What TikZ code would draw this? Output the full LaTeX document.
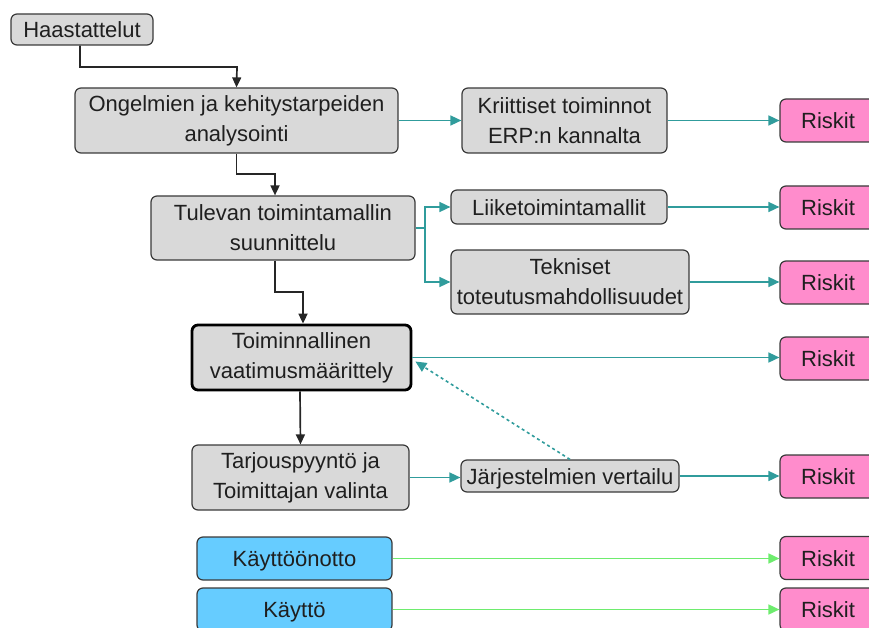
\documentclass[tikz,border=0pt]{standalone}
\usepackage{fontspec}
\setmainfont{Liberation Sans}
\usetikzlibrary{arrows.meta}
\definecolor{boxgray}{RGB}{217,217,217}
\definecolor{boxline}{RGB}{58,58,58}
\definecolor{riskpink}{RGB}{255,140,204}
\definecolor{stageblue}{RGB}{102,204,255}
\definecolor{flowteal}{RGB}{48,156,156}
\definecolor{flowgreen}{RGB}{110,236,110}
\begin{document}
\begin{tikzpicture}[x=1pt,y=-1pt,
  every node/.style={font=\fontsize{22}{30}\selectfont, text=black!88, inner sep=0pt, align=center},
  oneline/.style={text height=16pt, text depth=0pt},
  base/.style={draw=boxline, line width=1.2pt, rounded corners=6pt},
  graybox/.style={base, fill=boxgray},
  keybox/.style={graybox, draw=black, line width=2.8pt},
  bluebox/.style={base, fill=stageblue, oneline},
  riskbox/.style={base, fill=riskpink, oneline, minimum width=96pt, minimum height=43pt},
  mainflow/.style={draw=black!85, line width=1.7pt, -{Triangle[length=10pt,width=9pt]}},
  sideflow/.style={draw=flowteal, line width=1.6pt, -{Triangle[length=11pt,width=10pt]}},
  useflow/.style={draw=flowgreen, line width=1.7pt, -{Triangle[length=11pt,width=10pt]}}
]
\useasboundingbox (0,0) rectangle (869,628);

% process stages
\node[graybox, oneline, minimum width=142pt, minimum height=31pt] (hs) at (82,29.5) {Haastattelut};
\node[graybox, minimum width=323pt, minimum height=65pt] (ong) at (236.5,120.5) {Ongelmien ja kehitystarpeiden\\analysointi};
\node[graybox, minimum width=264pt, minimum height=64pt] (tul) at (283,228) {Tulevan toimintamallin\\suunnittelu};
\node[keybox, minimum width=219pt, minimum height=65pt] (toi) at (301.5,357.5) {Toiminnallinen\\vaatimusmäärittely};
\node[graybox, minimum width=217pt, minimum height=65pt] (tar) at (300.5,477.5) {Tarjouspyyntö ja\\Toimittajan valinta};
\node[bluebox, minimum width=195pt, minimum height=43pt] (kon) at (294.5,558.5) {Käyttöönotto};
\node[bluebox, minimum width=195pt, minimum height=43pt] (kay) at (294.5,609.5) {Käyttö};

% intermediate results
\node[graybox, minimum width=205pt, minimum height=65pt] (krit) at (564.5,120.5) {Kriittiset toiminnot\\ERP:n kannalta};
\node[graybox, oneline, minimum width=216pt, minimum height=34pt] (lii) at (559,207) {Liiketoimintamallit};
\node[graybox, minimum width=238pt, minimum height=64pt] (tek) at (570,282) {Tekniset\\toteutusmahdollisuudet};
\node[graybox, oneline, minimum width=218pt, minimum height=32pt] (jar) at (570,476) {Järjestelmien vertailu};

% risks
\node[riskbox] (r1) at (828,120.5) {Riskit};
\node[riskbox] (r2) at (828,207.5) {Riskit};
\node[riskbox] (r3) at (828,282.5) {Riskit};
\node[riskbox] (r4) at (828,358.5) {Riskit};
\node[riskbox] (r5) at (828,476.5) {Riskit};
\node[riskbox] (r6) at (828,558) {Riskit};
\node[riskbox] (r7) at (828,609.5) {Riskit};

% main flow
\draw[mainflow] ([xshift=-2pt]hs.south) |- (237,67) -- (ong.north);
\draw[mainflow] (ong.south) |- (275,174) -- ([xshift=-8pt]tul.north);
\draw[mainflow] ([xshift=-8pt]tul.south) |- (303,292) -- ([xshift=1.5pt]toi.north);
\draw[mainflow] ([xshift=-1.5pt]toi.south) -- (tar.north);

% side flows
\draw[sideflow] (ong.east) -- (krit.west);
\draw[sideflow] (krit.east) -- (krit.east -| r1.west);
\coordinate (split) at (425,228);
\draw[draw=flowteal, line width=1.6pt] (tul.east) -- (split);
\draw[sideflow] (split) |- (lii.west);
\draw[sideflow] (split) |- (tek.west);
\draw[sideflow] (lii.east) -- (lii.east -| r2.west);
\draw[sideflow] (tek.east) -- (tek.east -| r3.west);
\draw[sideflow] (toi.east) -- (toi.east -| r4.west);
\draw[sideflow] (tar.east) -- (tar.east -| jar.west);
\draw[sideflow] (jar.east) -- (jar.east -| r5.west);
\draw[sideflow, dashed] (jar.north) -- ([xshift=3pt,yshift=-4pt]toi.east);

% usage flows
\draw[useflow] (kon.east) -- (kon.east -| r6.west);
\draw[useflow] (kay.east) -- (kay.east -| r7.west);
\end{tikzpicture}
\end{document}
